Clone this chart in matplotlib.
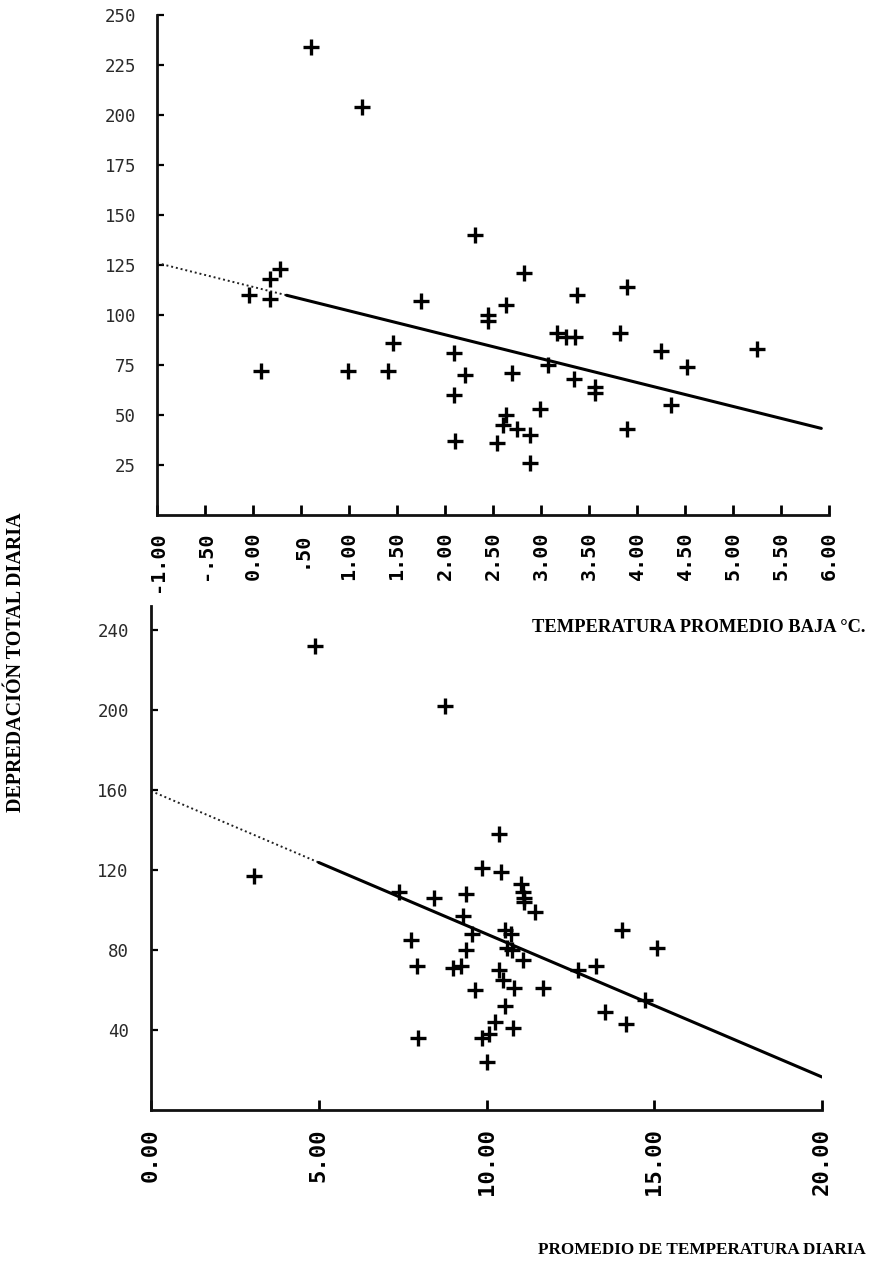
import matplotlib
matplotlib.use("Agg")
import matplotlib.pyplot as plt
import numpy as np

# datos: temperatura promedio baja (°C) vs depredacion total diaria
baja_x = [0.60, 1.14, 2.31, 0.28, 0.18, -0.04, 0.18, 2.82, 3.90, 3.37,
          1.75, 2.64, 2.45, 2.45, 3.17, 3.26, 3.35, 3.82, 1.46, 4.25,
          5.25, 2.09, 0.08, 0.99, 1.41, 2.21, 2.70, 3.07, 4.52, 3.34,
          3.56, 3.56, 2.09, 4.35, 2.99, 2.64, 2.60, 2.75, 3.90, 2.89,
          2.10, 2.54, 2.89]
baja_y = [234, 204, 140, 123, 118, 110, 108, 121, 114, 110,
          107, 105, 100, 97, 91, 89, 89, 91, 86, 82,
          83, 81, 72, 72, 72, 70, 71, 75, 74, 68,
          64, 61, 60, 55, 53, 50, 45, 43, 43, 40,
          37, 36, 26]
baja_recta_x = [-1.0, 5.92]
baja_recta_y = [126.0, 43.3]

# datos: promedio de temperatura diaria vs depredacion total diaria
diaria_x = [4.90, 8.75, 10.37, 3.06, 9.86, 10.42, 11.04, 11.08, 11.11, 11.11,
            11.46, 7.40, 8.43, 9.40, 9.31, 10.56, 10.74, 14.03, 15.07, 7.74,
            9.58, 9.40, 10.60, 10.76, 11.08, 7.92, 9.00, 9.24, 13.26, 12.74,
            10.37, 10.49, 10.83, 11.69, 9.65, 14.72, 10.56, 13.54, 10.24, 14.17,
            10.79, 7.96, 9.86, 10.07, 10.00]
diaria_y = [232, 202, 138, 117, 121, 119, 113, 109, 106, 104,
            99, 109, 106, 108, 97, 90, 88, 90, 81, 85,
            88, 80, 81, 80, 75, 72, 71, 72, 72, 70,
            70, 65, 61, 61, 60, 55, 52, 49, 44, 43,
            41, 36, 36, 38, 24]
diaria_recta_x = [0.0, 20.0]
diaria_recta_y = [159.5, 16.5]

top_xticks = [-1.0, -0.5, 0.0, 0.5, 1.0, 1.5, 2.0, 2.5, 3.0, 3.5, 4.0, 4.5, 5.0, 5.5, 6.0]
top_xlabels = ["-1.00", "-.50", "0.00", ".50", "1.00", "1.50", "2.00", "2.50",
               "3.00", "3.50", "4.00", "4.50", "5.00", "5.50", "6.00"]
top_yticks = [25, 50, 75, 100, 125, 150, 175, 200, 225, 250]
bot_xticks = [0, 5, 10, 15, 20]
bot_xlabels = ["0.00", "5.00", "10.00", "15.00", "20.00"]
bot_yticks = [40, 80, 120, 160, 200, 240]

W, H = 869, 1273
fig = plt.figure(figsize=(W / 100, H / 100), dpi=100)

def px_axes(left, right, top, bottom):
    return fig.add_axes([left / W, 1 - bottom / H, (right - left) / W, (bottom - top) / H])

def estilo(ax, ypad, xpad, xsize):
    for s in ["top", "right"]:
        ax.spines[s].set_visible(False)
    for s in ["left", "bottom"]:
        ax.spines[s].set_linewidth(2.0)
        ax.spines[s].set_color("#111111")
    ax.tick_params(axis="y", direction="in", length=5, width=1.6, pad=ypad,
                   labelsize=12.5, labelcolor="#2a2a2a")
    ax.tick_params(axis="x", direction="in", length=7, width=2.0, pad=xpad,
                   labelsize=xsize)
    for t in ax.get_yticklabels():
        t.set_family("DejaVu Sans Mono")
    for t in ax.get_xticklabels():
        t.set_family("DejaVu Sans Mono")
        t.set_fontweight("bold")
        t.set_rotation(90)
        t.set_va("top")
        t.set_ha("center")

def recta(ax, xs, ys, corte):
    # tramo claro (punteado) y tramo oscuro de la recta de regresion
    xx = np.array(xs)
    yy = np.array(ys)
    yc = yy[0] + (yy[1] - yy[0]) * (corte - xx[0]) / (xx[1] - xx[0])
    ax.plot([xx[0], corte], [yy[0], yc], color="#222222", lw=1.4, ls=(0, (1, 1.5)))
    ax.plot([corte, xx[1]], [yc, yy[1]], color="black", lw=2.2, solid_capstyle="round")

# panel superior
ax1 = px_axes(157, 829, 15, 515)
ax1.scatter(baja_x, baja_y, marker="+", s=120, linewidths=2.4, color="black", zorder=3)
recta(ax1, baja_recta_x, baja_recta_y, 0.35)
ax1.set_xlim(-1, 6)
ax1.set_ylim(0, 250)
ax1.set_xticks(top_xticks)
ax1.set_xticklabels(top_xlabels)
ax1.set_yticks(top_yticks)
estilo(ax1, 15, 12, 14.5)

# panel inferior
ax2 = px_axes(151, 822, 606, 1110)
ax2.scatter(diaria_x, diaria_y, marker="+", s=120, linewidths=2.4, color="black", zorder=3)
recta(ax2, diaria_recta_x, diaria_recta_y, 5.0)
ax2.set_xlim(0, 20)
ax2.set_ylim(0, 252)
ax2.set_xticks(bot_xticks)
ax2.set_xticklabels(bot_xlabels)
ax2.set_yticks(bot_yticks)
estilo(ax2, 16, 13, 16)

# titulos de ejes
fig.text(16 / W, 1 - 662 / H, "DEPREDACIÓN TOTAL DIARIA", rotation=90,
         ha="center", va="center", family="Liberation Serif", weight="bold", fontsize=14.4)
fig.text(865 / W, 1 - 627 / H, "TEMPERATURA PROMEDIO BAJA °C.", ha="right", va="center",
         family="Liberation Serif", weight="bold", fontsize=13.3)
fig.text(866 / W, 1 - 1250 / H, "PROMEDIO DE TEMPERATURA DIARIA", ha="right", va="center",
         family="Liberation Serif", weight="bold", fontsize=12.3)

fig.savefig("out.png", dpi=100, facecolor="white")
